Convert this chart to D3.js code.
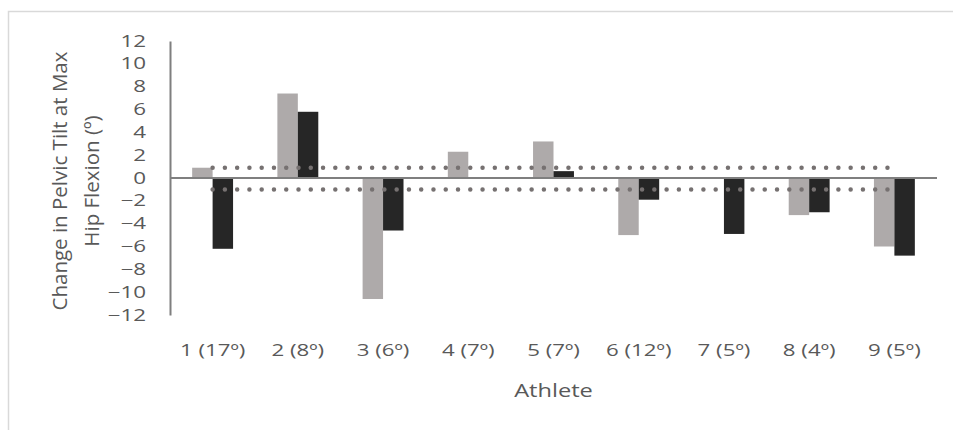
<!DOCTYPE html>
<html>
<head>
<meta charset="utf-8">
<script src="https://cdn.jsdelivr.net/npm/d3@7"></script>
<style>
    body { margin: 0; background: #fff; }
    text { font-family: "Open Sans", sans-serif; fill: #595959; }
</style>
</head>
<body>
<div id="chart"></div>
<script>
    // chart data
    const athletes = ["1 (17º)", "2 (8º)", "3 (6º)", "4 (7º)", "5 (7º)", "6 (12º)", "7 (5º)", "8 (4º)", "9 (5º)"]
    const seriesA = [0.9, 7.4, -10.6, 2.3, 3.2, -5.0, 0, -3.25, -6.0]
    const seriesB = [-6.2, 5.8, -4.6, 0, 0.6, -1.9, -4.9, -3.0, -6.8]
    const yTicks = [-12, -10, -8, -6, -4, -2, 0, 2, 4, 6, 8, 10, 12]
    const bandLimits = [0.9, -1.0]

    const W = 953, H = 430
    const margin = {top: 41, right: 16, bottom: 115, left: 170},
        width = W - margin.left - margin.right,
        height = H - margin.top - margin.bottom

    // the reference text is wide, so horizontal labels get stretched a bit
    const stretch = 1.4

    const svg = d3.select("#chart").append("svg")
        .attr("width", W)
        .attr("height", H)

    // light frame of the chart area
    svg.append("path")
        .attr("d", `M${8.5},${H}V${11.5}H${W}`)
        .attr("fill", "none")
        .attr("stroke", "#d9d9d9")
        .attr("stroke-width", 1.5)

    const g = svg.append("g")
        .attr("transform", `translate(${margin.left},${margin.top})`)

    const x = d3.scaleBand()
        .domain(athletes)
        .range([0, width])
        .paddingInner(0.52)
        .paddingOuter(0.26)

    const xSub = d3.scaleBand()
        .domain(["a", "b"])
        .range([0, x.bandwidth()])

    const y = d3.scaleLinear()
        .domain([-12, 12])
        .range([height, 0])

    // y axis
    const yAxis = g.append("g")
        .call(d3.axisLeft(y).tickValues(yTicks).tickSize(0))
    yAxis.select(".domain").attr("stroke", "#7f7f7f").attr("stroke-width", 2)
    yAxis.selectAll("text")
        .attr("x", -24 / stretch)
        .attr("transform", `scale(${stretch},1)`)
        .attr("font-size", 16)
        .attr("fill", "#595959")
        .style("font-family", "'Open Sans', sans-serif")

    // bars
    const groups = g.selectAll(".athlete")
        .data(athletes)
        .join("g")
        .attr("class", "athlete")
        .attr("transform", d => `translate(${x(d)},0)`)

    groups.append("rect")
        .attr("x", xSub("a"))
        .attr("width", xSub.bandwidth())
        .attr("y", (d, i) => y(Math.max(0, seriesA[i])))
        .attr("height", (d, i) => Math.abs(y(seriesA[i]) - y(0)))
        .attr("fill", "#aeaaaa")

    groups.append("rect")
        .attr("x", xSub("b"))
        .attr("width", xSub.bandwidth())
        .attr("y", (d, i) => y(Math.max(0, seriesB[i])))
        .attr("height", (d, i) => Math.abs(y(seriesB[i]) - y(0)))
        .attr("fill", "#262626")

    // zero line
    g.append("line")
        .attr("x1", 0)
        .attr("x2", width)
        .attr("y1", y(0))
        .attr("y2", y(0))
        .attr("stroke", "#7f7f7f")
        .attr("stroke-width", 2)

    // dotted limit lines
    const xStart = x(athletes[0]) + x.bandwidth() / 2
    const xEnd = x(athletes[athletes.length - 1]) + x.bandwidth() / 2
    g.selectAll(".limit")
        .data(bandLimits)
        .join("line")
        .attr("class", "limit")
        .attr("x1", xStart)
        .attr("x2", xEnd)
        .attr("y1", d => y(d))
        .attr("y2", d => y(d))
        .attr("stroke", "#767171")
        .attr("stroke-width", 4.5)
        .attr("stroke-linecap", "round")
        .attr("stroke-dasharray", "0,12.27")

    // x labels
    g.selectAll(".xlab")
        .data(athletes)
        .join("text")
        .attr("class", "xlab")
        .attr("transform", d => `translate(${x(d) + x.bandwidth() / 2},${height + 41}) scale(${stretch - 0.05},1)`)
        .attr("text-anchor", "middle")
        .attr("font-size", 16.5)
        .text(d => d)

    g.append("text")
        .attr("transform", `translate(${width / 2},${height + 82}) scale(${stretch - 0.05},1)`)
        .attr("text-anchor", "middle")
        .attr("font-size", 17.5)
        .text("Athlete")

    // y title
    const yTitle = svg.append("text")
        .attr("transform", `translate(0,181) rotate(-90)`)
        .attr("text-anchor", "middle")
        .attr("font-size", 20.5)
    yTitle.append("tspan").attr("x", 0).attr("y", 67).text("Change in Pelvic Tilt at Max")
    yTitle.append("tspan").attr("x", 0).attr("y", 99).text("Hip Flexion (º)")
</script>
</body>
</html>
